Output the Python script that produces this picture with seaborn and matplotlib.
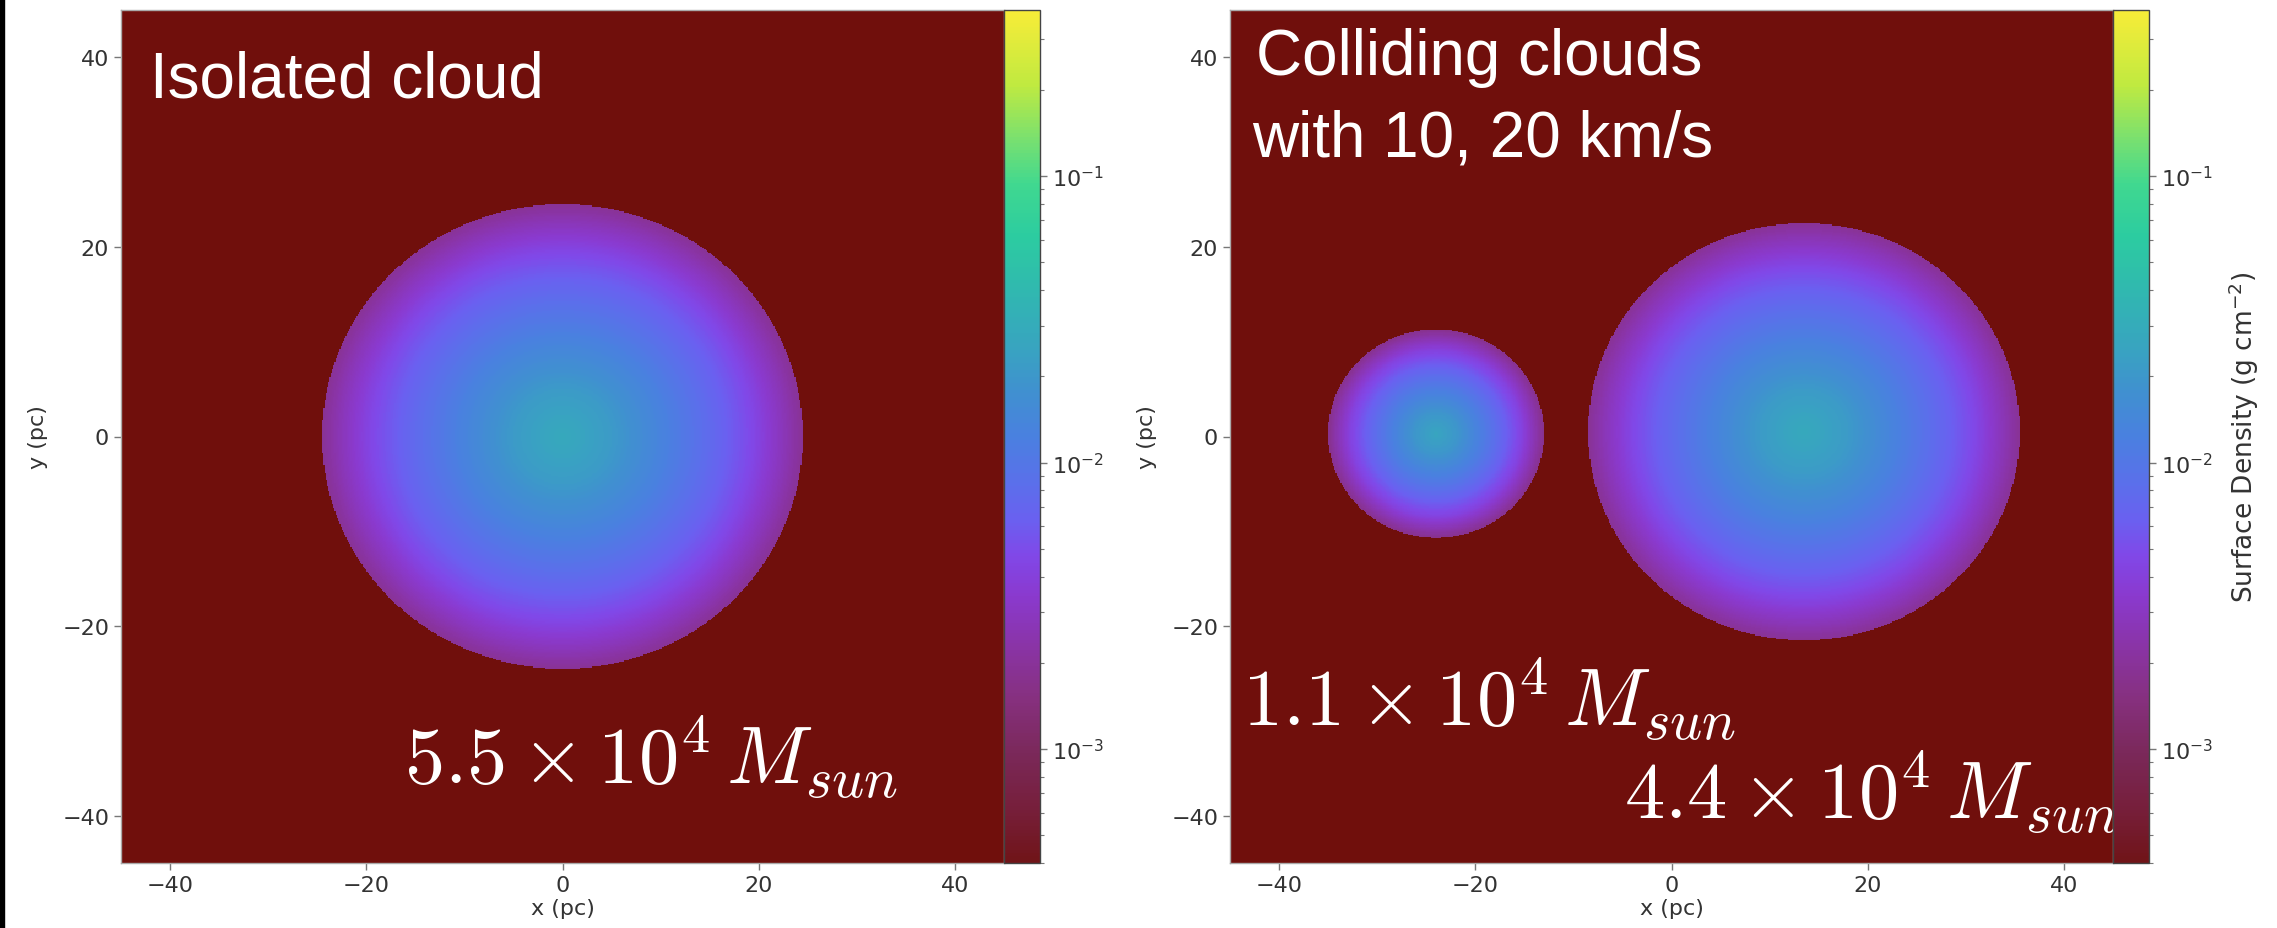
import numpy as np
import matplotlib
matplotlib.use("Agg")
import matplotlib.pyplot as plt
import seaborn as sns
from matplotlib.colors import LinearSegmentedColormap, LogNorm
from matplotlib.patches import Rectangle

sns.set_theme(style="white")
plt.rcParams['font.family'] = ['DejaVu Sans']

# map extent (pc) and grid resolution
half_width = 45.0
n_cells = 720

# radial surface-density profile: r/R -> log10(Sigma)
profile_r = [0.0, 0.2, 0.43, 0.64, 0.79, 0.93, 1.0]
profile_logsig = [-1.55, -1.67, -1.90, -2.15, -2.33, -2.58, -2.72]

# clouds in each panel (pc) and a small shift of the profile (dex)
left_cx = [0.0]
left_cy = [0.0]
left_rad = [24.5]
left_shift = [0.0]

right_cx = [-24.0, 13.5]
right_cy = [0.3, 0.5]
right_rad = [11.0, 22.0]
right_shift = [-0.04, 0.0]

# colour bar range and colour map samples (position along bar, colour)
vmin, vmax = 4e-4, 0.38
cmap_pos = [0.0, 0.057, 0.124, 0.19, 0.256, 0.315, 0.361, 0.401, 0.447,
            0.499, 0.552, 0.605, 0.671, 0.736, 0.796, 0.849, 0.914, 1.0]
cmap_col = ['#701418', '#761e38', '#7a2858', '#86307e', '#8a34a8', '#8a3ad0',
            '#8048e8', '#6a60f0', '#5a70ea', '#4a80e0', '#4090d0', '#38a4c0',
            '#30b8b0', '#2ccca0', '#40d890', '#78e070', '#c0ea40', '#f8ec38']
background = '#700f0c'

ticks_pc = [-40, -20, 0, 20, 40]

cmap = LinearSegmentedColormap.from_list('clouds', list(zip(cmap_pos, cmap_col)))

edges = np.linspace(-half_width, half_width, n_cells + 1)
centres = 0.5 * (edges[1:] + edges[:-1])
gx, gy = np.meshgrid(centres, centres)


def surface_density(cx, cy, rad, shift):
    logsig = np.full(gx.shape, np.nan)
    for x0, y0, r0, s0 in zip(cx, cy, rad, shift):
        rr = np.hypot(gx - x0, gy - y0) / r0
        inside = rr <= 1.0
        logsig[inside] = np.interp(rr[inside], profile_r, profile_logsig) + s0
    return 10.0 ** logsig


def to_cell(v):
    return (np.asarray(v, dtype=float) + half_width) / (2 * half_width) * n_cells


W, H = 2277, 929
fig = plt.figure(figsize=(W / 100, H / 100), dpi=100)

panels = [
    dict(x0=121, field=surface_density(left_cx, left_cy, left_rad, left_shift)),
    dict(x0=1230, field=surface_density(right_cx, right_cy, right_rad, right_shift)),
]
ax_w, cb_w = 883, 36
ax_top, ax_bot = 11, 864

axes = []
for i, p in enumerate(panels):
    ax = fig.add_axes([p['x0'] / W, (H - ax_bot) / H, ax_w / W, (ax_bot - ax_top) / H])
    cax = fig.add_axes([(p['x0'] + ax_w) / W, (H - ax_bot) / H, cb_w / W, (ax_bot - ax_top) / H])
    field = p['field']
    sns.heatmap(np.nan_to_num(field, nan=vmin), mask=np.isnan(field), ax=ax, cbar_ax=cax,
                cmap=cmap, norm=LogNorm(vmin=vmin, vmax=vmax),
                xticklabels=False, yticklabels=False, rasterized=True)
    ax.invert_yaxis()
    ax.set_facecolor(background)
    ax.set_xticks(to_cell(ticks_pc))
    ax.set_xticklabels([str(t).replace('-', '\u2212') for t in ticks_pc])
    ax.set_yticks(to_cell(ticks_pc))
    ax.set_yticklabels([str(t).replace('-', '\u2212') for t in ticks_pc], rotation=0)
    ax.tick_params(axis='both', direction='out', length=5, width=1, color='#777',
                   labelsize=16, labelcolor='#333', bottom=True, left=True)
    ax.set_xlabel('x (pc)', fontsize=16, color='#333', labelpad=2)
    ax.set_ylabel('y (pc)', fontsize=16, color='#333', labelpad=10)
    for s in ax.spines.values():
        s.set_visible(True)
        s.set_color('#aaa')
        s.set_linewidth(1)

    cb = ax.collections[0].colorbar
    cb.outline.set_visible(True)
    cb.outline.set_linewidth(1)
    cb.outline.set_edgecolor('#444')
    cax.tick_params(which='major', length=5, width=1, color='#777', labelsize=16, labelcolor='#333')
    cax.tick_params(which='minor', length=3, width=0.8, color='#777')
    if i == 1:
        cb.set_label('Surface Density (g cm$^{-2}$)', fontsize=19, color='#333', labelpad=10)
    axes.append(ax)

title_kw = dict(color='white', family=['Liberation Sans', 'DejaVu Sans'], fontsize=46,
                ha='left', va='baseline')
mass_kw = dict(color='white', fontsize=58, ha='left', va='baseline', math_fontfamily='cm')

axes[0].text(0.033, 0.899, 'Isolated cloud', transform=axes[0].transAxes, **title_kw)
axes[0].text(0.320, 0.094, r'$5.5\times10^4\,M_{sun}$', transform=axes[0].transAxes, **mass_kw)

axes[1].text(0.029, 0.925, 'Colliding clouds', transform=axes[1].transAxes, **title_kw)
axes[1].text(0.025, 0.830, 'with 10, 20 km/s', transform=axes[1].transAxes, **title_kw)
axes[1].text(0.0136, 0.162, r'$1.1\times10^4\,M_{sun}$', transform=axes[1].transAxes, **mass_kw)
axes[1].text(0.446, 0.052, r'$4.4\times10^4\,M_{sun}$', transform=axes[1].transAxes, **mass_kw)

# dark strip along the left edge of the slide
fig.add_artist(Rectangle((0, 0), 4 / W, 1, transform=fig.transFigure, color='black', zorder=10))

fig.savefig('out.png', dpi=100)
